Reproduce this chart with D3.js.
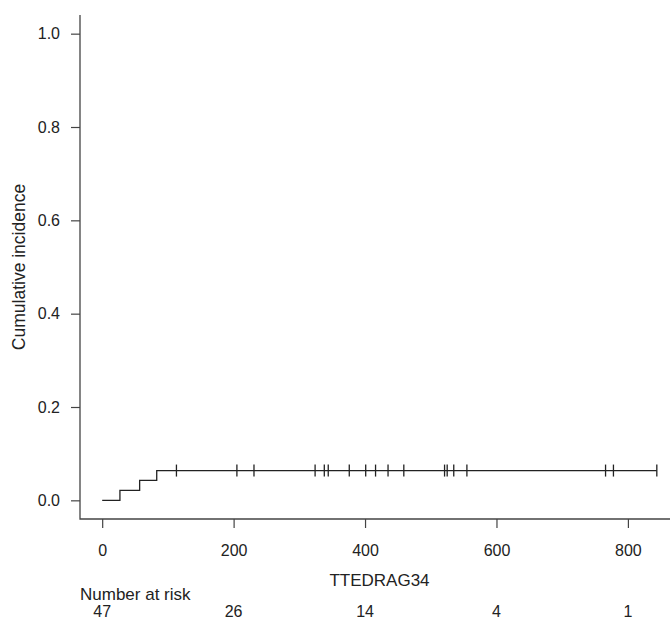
<!DOCTYPE html>
<html>
<head>
<meta charset="utf-8">
<script src="https://cdn.jsdelivr.net/npm/d3@7"></script>
<style>
  html, body { margin: 0; padding: 0; background: #fff; }
  svg { display: block; font-family: "Liberation Sans", Arial, sans-serif; }
</style>
</head>
<body>
<svg id="chart" width="670" height="620"></svg>
<script>
/* ---------- data ---------- */
const eventTimes  = [0, 27, 57, 83];
const cumInc      = [0, 0.0213, 0.0426, 0.0638];
const lastTime    = 844;
const censorTimes = [113, 205, 231, 324, 338, 344, 376, 401, 416, 435, 459,
                     521, 525, 535, 555, 766, 778, 844];
const xTicks      = [0, 200, 400, 600, 800];
const yTicks      = [0, 0.2, 0.4, 0.6, 0.8, 1.0];
const riskTimes   = [0, 200, 400, 600, 800];
const riskCounts  = [47, 26, 14, 4, 1];

/* ---------- layout ---------- */
const W = 670, H = 620;
const plot = { left: 80, right: 679, top: 15, bottom: 519 };
const ink = '#222';

const svg = d3.select('#chart');

const x = d3.scaleLinear()
  .domain([-0.04 * lastTime, lastTime * 1.04])
  .range([plot.left, plot.right]);
const y = d3.scaleLinear()
  .domain([-0.04, 1.04])
  .range([plot.bottom, plot.top]);

// L-shaped box
svg.append('path')
  .attr('d', `M${plot.left},${plot.top}V${plot.bottom}H${W}`)
  .attr('fill', 'none')
  .attr('stroke', '#444')
  .attr('stroke-width', 1.3);

/* ---------- axes ---------- */
const xAxis = svg.append('g')
  .attr('transform', `translate(0,${plot.bottom})`)
  .call(d3.axisBottom(x).tickValues(xTicks).tickSize(9).tickPadding(17).tickFormat(d3.format('d')));
xAxis.select('.domain').remove();

const yAxis = svg.append('g')
  .attr('transform', `translate(${plot.left},0)`)
  .call(d3.axisLeft(y).tickValues(yTicks).tickSize(9).tickPadding(11).tickFormat(d3.format('.1f')));
yAxis.select('.domain').remove();

[xAxis, yAxis].forEach(a => {
  a.selectAll('line').attr('stroke', '#444').attr('stroke-width', 1.2);
  a.selectAll('text').attr('fill', ink).attr('font-size', 16)
    .attr('font-family', '"Liberation Sans", Arial, sans-serif');
});

// axis titles, centred on the plot region like R does
svg.append('text')
  .attr('x', (plot.left + plot.right) / 2).attr('y', 586)
  .attr('text-anchor', 'middle')
  .attr('font-size', 17).attr('fill', ink)
  .text('TTEDRAG34');

svg.append('text')
  .attr('transform', `translate(25,${(plot.top + plot.bottom) / 2}) rotate(-90)`)
  .attr('text-anchor', 'middle')
  .attr('font-size', 17.5).attr('fill', ink)
  .text('Cumulative incidence');

/* ---------- curve ---------- */
const pts = eventTimes.map((t, i) => [t, cumInc[i]]);
pts.push([lastTime, cumInc[cumInc.length - 1]]);

svg.append('path')
  .datum(pts)
  .attr('d', d3.line().x(d => x(d[0])).y(d => y(d[1])).curve(d3.curveStepAfter))
  .attr('fill', 'none')
  .attr('stroke', ink)
  .attr('stroke-width', 1.3);

// censor marks
const levelAt = t => {
  let v = 0;
  eventTimes.forEach((et, i) => { if (et <= t) v = cumInc[i]; });
  return v;
};
svg.append('g').selectAll('line')
  .data(censorTimes)
  .join('line')
  .attr('x1', d => x(d)).attr('x2', d => x(d))
  .attr('y1', d => y(levelAt(d)) - 6)
  .attr('y2', d => y(levelAt(d)) + 6)
  .attr('stroke', ink)
  .attr('stroke-width', 1.3);

/* ---------- number at risk ---------- */
svg.append('text')
  .attr('x', 80).attr('y', 600)
  .attr('font-size', 17).attr('fill', ink)
  .text('Number at risk');

svg.append('g').selectAll('text')
  .data(riskTimes)
  .join('text')
  .attr('x', d => x(d)).attr('y', 617)
  .attr('text-anchor', 'middle')
  .attr('font-size', 16).attr('fill', ink)
  .text((d, i) => riskCounts[i]);
</script>
</body>
</html>
